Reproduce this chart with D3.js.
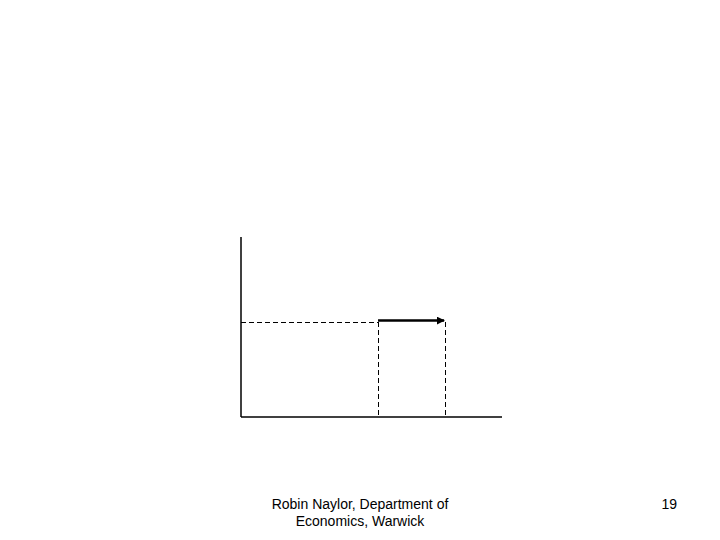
<!DOCTYPE html>
<html>
<head>
<meta charset="utf-8">
<script src="https://cdn.jsdelivr.net/npm/d3@7"></script>
<style>
  body { margin: 0; background: #fff; }
  svg { display: block; font-family: Arial, "Liberation Sans", sans-serif; }
</style>
</head>
<body>
<svg width="720" height="540"></svg>
<script>
// shift in the quantity, at one price level (units are arbitrary)
var xDomain = [0, 10];
var yDomain = [0, 10];
var priceLevel = [5.3];
var quantityFrom = [5.25];
var quantityTo = [7.82];
var footerLines = ["Robin Naylor, Department of", "Economics, Warwick"];
var pageNumber = ["19"];

var svg = d3.select("svg");

var x = d3.scaleLinear().domain(xDomain).range([241, 502]);
var y = d3.scaleLinear().domain(yDomain).range([417, 237]);

svg.append("defs").append("marker")
    .attr("id", "head")
    .attr("viewBox", "0 0 10 10")
    .attr("refX", 9)
    .attr("refY", 5)
    .attr("markerWidth", 3.2)
    .attr("markerHeight", 3.2)
    .attr("orient", "auto")
  .append("path")
    .attr("d", "M0,0 L10,5 L0,10 z")
    .attr("fill", "#000");

// axes, no ticks
var axes = svg.append("g").attr("stroke", "#000").attr("stroke-width", 1.5).attr("fill", "none");
axes.append("line")
    .attr("x1", x(xDomain[0])).attr("y1", y(yDomain[0]))
    .attr("x2", x(xDomain[0])).attr("y2", y(yDomain[1]));
axes.append("line")
    .attr("x1", x(xDomain[0])).attr("y1", y(yDomain[0]))
    .attr("x2", x(xDomain[1])).attr("y2", y(yDomain[0]));

// dashed guides
var dash = svg.append("g")
    .attr("stroke", "#000")
    .attr("stroke-width", 1)
    .attr("stroke-dasharray", "5,3")
    .attr("shape-rendering", "crispEdges");
dash.append("line")
    .attr("x1", x(xDomain[0])).attr("y1", Math.round(y(priceLevel[0])) + 0.5)
    .attr("x2", x(quantityFrom[0])).attr("y2", Math.round(y(priceLevel[0])) + 0.5);
dash.selectAll("line.v")
    .data([quantityFrom[0], quantityTo[0]])
    .enter()
    .append("line")
    .attr("class", "v")
    .attr("x1", function(d) { return Math.round(x(d)) + 0.5; })
    .attr("x2", function(d) { return Math.round(x(d)) + 0.5; })
    .attr("y1", y(priceLevel[0]))
    .attr("y2", y(yDomain[0]));

// arrow for the shift
svg.append("line")
    .attr("x1", x(quantityFrom[0])).attr("y1", y(priceLevel[0]) - 1)
    .attr("x2", x(quantityTo[0]) - 1).attr("y2", y(priceLevel[0]) - 1)
    .attr("stroke", "#000")
    .attr("stroke-width", 2.5)
    .attr("marker-end", "url(#head)");

// footer
svg.append("text")
    .attr("x", 360)
    .attr("y", 509)
    .attr("text-anchor", "middle")
    .attr("font-size", 14)
    .selectAll("tspan")
    .data(footerLines)
    .enter()
    .append("tspan")
    .attr("x", 360)
    .attr("dy", function(d, i) { return i ? 17 : 0; })
    .text(function(d) { return d; });

svg.append("text")
    .attr("x", 677)
    .attr("y", 509)
    .attr("text-anchor", "end")
    .attr("font-size", 14)
    .text(pageNumber[0]);
</script>
</body>
</html>
